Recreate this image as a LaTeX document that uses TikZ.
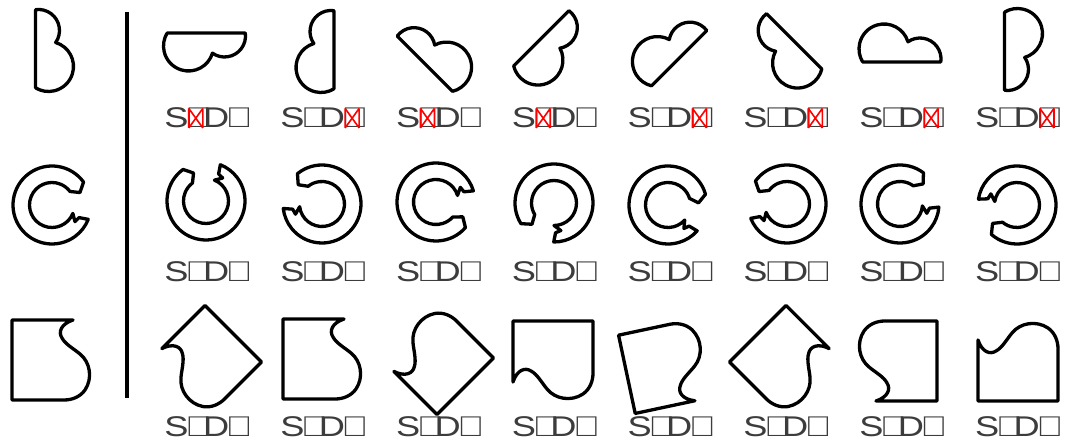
\documentclass[tikz,border=0pt]{standalone}
\usepackage{fontspec}
\newfontfamily\labfont[FakeStretch=1.27]{Liberation Sans}
\definecolor{labgray}{RGB}{60,60,60}
\newlength\tfl \newlength\tfr \newlength\tft \newlength\tfb \newlength\tfw
% missing-glyph box of the caption font
\newcommand\tofu{\kern-3.5pt\XeTeXglyph0\relax\kern-3.5pt}
\newcommand\tofux{\kern-3.5pt{%
  \setlength\tfl{\XeTeXglyphbounds1 0}%
  \setlength\tfr{\XeTeXglyphbounds3 0}%
  \setlength\tft{\XeTeXglyphbounds2 0}%
  \setlength\tfb{\XeTeXglyphbounds4 0}%
  \settowidth\tfw{\XeTeXglyph0}%
  \rlap{\XeTeXglyph0}\tikz[baseline=0pt]{%
    \useasboundingbox (0pt,0pt) rectangle (\tfw,0pt);
    \draw[red, line width=1.6pt] (\tfl,-\tfb) -- (\tfw-\tfr,\tft) (\tfl,\tft) -- (\tfw-\tfr,-\tfb)
      (\tfl,-\tfb) -- (\tfl,\tft) (\tfw-\tfr,-\tfb) -- (\tfw-\tfr,\tft);}}\kern-3.5pt}
\begin{document}
\begin{tikzpicture}[x=1pt, y=1pt,
    outline/.style={draw=black, line width=3.3pt, line join=round},
    lab/.style={font=\labfont\fontsize{28.5}{30}\selectfont, text=labgray,
                inner sep=0pt, anchor=base},
    lobe/.pic={\draw[outline, shift={(-19,1)}] (0,-38.4) -- (0,39.8)
        arc[start angle=98.2, end angle=-35.06, radius=21]
        arc[start angle=73.28, end angle=-121.3, radius=25] -- cycle;},
    ring/.pic={\draw[outline] (36:39) arc[start angle=36, end angle=338.4, radius=39]
        -- (335:29.8) -- (324:28.4) -- (338:22.5)
        arc[start angle=338, end angle=37, radius=22.5] -- (24:30.6) -- cycle;},
    block/.pic={\draw[outline] (-40,-40) -- (-40,40) -- (21,40)
        .. controls (9,36) and (6,28) .. (10,22)
        .. controls (13,16) and (22,11) .. (28,6)
        .. controls (38,-2) and (41,-18) .. (33,-30)
        .. controls (28,-37) and (20,-40) .. (12,-40) -- cycle;}]
  \useasboundingbox (0,0) rectangle (1067,446);

  % reference shapes (left column) and divider
  \pic (lobe0) at (54.5,395.5) {lobe};
  \pic (ring0) at (52,241) {ring};
  \pic (block0) at (52,86) {block};
  \coordinate (divtop) at (127,434);
  \coordinate (divbot) at (127,48);
  \draw[line width=3.3pt] (divtop) -- (divbot);

  % row 1: half lobe, x/y/rotation/mirror
  \foreach \px/\py/\ang/\flip [count=\i] in {204.5/394/-90/1, 315/394.5/0/-1,
      439.5/394.5/45/1, 553.5/393/-45/1, 664.5/400/-45/-1, 782/390/45/-1,
      900/403/-90/-1, 1023.5/396.5/180/-1}
    {\pic[rotate=\ang, xscale=\flip] (lobe\i) at (\px,\py) {lobe};}

  % row 2: notched ring
  \foreach \px/\py/\ang/\flip [count=\i] in {206/245/90/1, 322/242/-15/-1,
      436/244/175/-1, 554/243/68/-1, 668/241/-20/1, 787/242/0/-1,
      900/242/17/1, 1017/241/193/1}
    {\pic[rotate=\ang, xscale=\flip] (ring\i) at (\px,\py) {ring};}

  % row 3: square with curved side
  \foreach \px/\py/\ang/\flip [count=\i] in {205/84/45/-1, 323/87/0/1,
      437/88/135/1, 553/85/90/-1, 666/80/192/-1, 786/84/-45/1,
      897/85/180/1, 1018/85/90/1}
    {\pic[rotate=\ang, xscale=\flip] (block\i) at (\px,\py) {block};}

  % captions
  \foreach \txt [count=\i from 0] in {S\tofux D\tofu, S\tofu D\tofux, S\tofux D\tofu,
      S\tofux D\tofu, S\tofu D\tofux, S\tofu D\tofux, S\tofu D\tofux, S\tofu D\tofux}
    \node[lab] (cap1\i) at (204+115.8*\i,318) {\txt};
  \foreach \i in {0,...,7} {
    \node[lab] (cap2\i) at (204+115.8*\i,164) {S\tofu D\tofu};
    \node[lab] (cap3\i) at (204+115.8*\i,9) {S\tofu D\tofu};
  }
\end{tikzpicture}
\end{document}
